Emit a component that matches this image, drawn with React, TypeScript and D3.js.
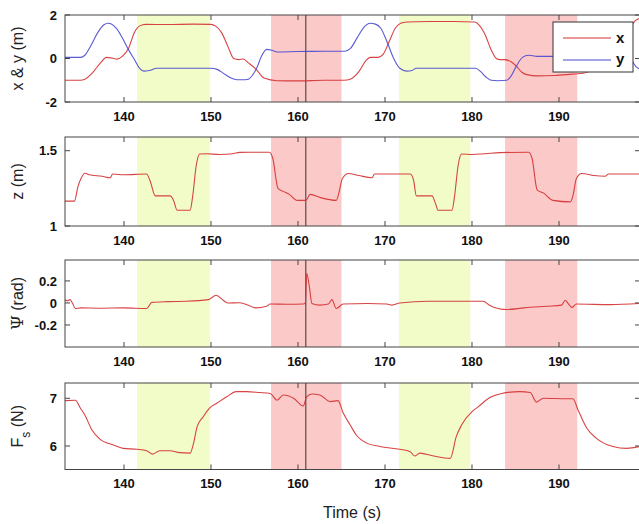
import * as d3 from 'd3'

// time axis
const timeDomain: [number, number] = [133.22, 199.31]
const timeTicks = [140, 150, 160, 170, 180, 190]

// shaded phases and event marker
const greenSpans: [number, number][] = [[141.5, 149.9], [171.6, 179.8]]
const redSpans: [number, number][] = [[156.9, 165.0], [183.8, 192.1]]
const eventTime = 160.9

// x position (m)
const xT = [133.2, 135.0, 135.5, 136.5, 137.3, 138.0, 138.6, 139.2, 139.8, 140.5, 141.2, 141.8, 142.5, 145, 148, 150.0, 150.5, 151.2, 152.0, 152.6, 153.2, 153.7, 154.3, 155.2, 156.1, 157.6, 160, 163, 165.3, 166.0, 167.0, 167.8, 168.3, 169.2, 169.8, 170.5, 171.2, 171.8, 172.5, 175, 178, 180.3, 180.8, 181.5, 182.2, 182.8, 183.2, 183.7, 184.5, 185.1, 185.7, 186.3, 187.5, 189.5, 191.5, 192.8, 194.0, 195.5, 196.5, 197.4, 198.2, 198.8, 199.31]
const xV = [-1.0, -1.0, -0.95, -0.6, -0.2, 0.05, 0.02, -0.03, 0.1, 0.45, 1.2, 1.5, 1.57, 1.56, 1.58, 1.57, 1.5, 1.2, 0.5, 0.0, -0.05, -0.02, -0.2, -0.5, -0.9, -1.02, -1.03, -1.0, -1.0, -0.95, -0.6, -0.1, 0.05, 0.05, 0.2, 0.8, 1.4, 1.62, 1.68, 1.7, 1.7, 1.68, 1.55, 1.1, 0.4, 0.0, -0.05, -0.05, -0.15, -0.35, -0.62, -0.74, -0.8, -0.78, -0.72, -0.68, -0.5, 0.0, 0.05, 0.6, 1.4, 1.75, 1.85]

// y position (m)
const yT = [133.2, 135.0, 135.5, 136.2, 137.0, 137.7, 138.2, 138.6, 139.2, 139.8, 140.5, 141.2, 141.8, 142.3, 142.9, 143.8, 147, 150.0, 150.7, 151.5, 152.3, 153.0, 153.6, 154.3, 154.8, 155.3, 155.8, 156.4, 157.0, 157.6, 160, 163, 165.4, 166.0, 166.8, 167.5, 168.3, 168.9, 169.5, 170.3, 171.0, 171.7, 172.5, 173.1, 173.6, 177, 180.4, 181.0, 181.6, 182.2, 183, 184.0, 184.5, 185.1, 185.8, 186.5, 187.5, 189.3, 191.0, 192.5, 193.5, 194.5, 195.5, 196.3, 197.0, 197.8, 198.8, 199.31]
const yV = [0.05, 0.05, 0.15, 0.6, 1.2, 1.55, 1.62, 1.58, 1.35, 0.95, 0.42, -0.05, -0.45, -0.58, -0.55, -0.45, -0.45, -0.45, -0.5, -0.7, -0.9, -0.98, -0.98, -0.95, -0.75, -0.4, 0.1, 0.42, 0.38, 0.3, 0.32, 0.33, 0.33, 0.45, 0.95, 1.4, 1.62, 1.58, 1.4, 0.7, 0.0, -0.45, -0.58, -0.55, -0.45, -0.45, -0.45, -0.6, -0.85, -1.0, -1.02, -1.0, -0.8, -0.35, 0.05, 0.15, 0.1, 0.1, 0.12, 0.15, 0.5, 1.2, 1.55, 1.6, 1.2, 0.4, -0.35, -0.5]

// z (m)
const zT = [133.2, 134.3, 134.7, 135.1, 135.5, 136.0, 137.5, 138.4, 138.7, 140, 142.6, 143.0, 143.6, 145.3, 145.7, 146.1, 147.6, 147.9, 148.3, 148.7, 149.5, 151, 152.5, 153.3, 156.7, 157.1, 157.7, 158.3, 159.0, 159.9, 160.9, 161.4, 162.5, 164.4, 164.7, 165.1, 165.8, 167.0, 168.5, 168.8, 172.9, 173.3, 173.6, 175.4, 175.8, 176.1, 177.7, 178.0, 178.4, 178.8, 180, 181.5, 183.2, 186.5, 186.9, 187.5, 188.2, 189.3, 191.3, 191.6, 192.0, 192.6, 194.0, 195.3, 195.7, 197, 199.31]
const zV = [1.165, 1.165, 1.26, 1.32, 1.35, 1.34, 1.33, 1.32, 1.345, 1.34, 1.345, 1.3, 1.2, 1.2, 1.17, 1.105, 1.105, 1.2, 1.4, 1.478, 1.48, 1.475, 1.48, 1.489, 1.49, 1.45, 1.25, 1.23, 1.21, 1.17, 1.17, 1.21, 1.19, 1.17, 1.22, 1.316, 1.349, 1.335, 1.32, 1.345, 1.345, 1.3, 1.2, 1.2, 1.15, 1.105, 1.105, 1.2, 1.4, 1.478, 1.475, 1.48, 1.487, 1.49, 1.45, 1.238, 1.22, 1.17, 1.16, 1.2, 1.316, 1.349, 1.335, 1.33, 1.345, 1.345, 1.345]

// heading psi (rad)
const psiT = [133.2, 133.5, 133.8, 134.1, 134.4, 135, 137.2, 140, 142.6, 143.2, 145, 147.2, 149.7, 150.6, 151.4, 151.9, 153.3, 154.3, 155.1, 156.4, 156.8, 158.7, 160.6, 160.85, 161.0, 161.3, 161.6, 162.5, 163.5, 163.9, 164.4, 165.2, 168, 170.2, 170.8, 171.7, 175, 179.8, 181.3, 182.0, 184.0, 186, 188.6, 190.3, 190.7, 191.1, 191.5, 192.0, 195.9, 199.31]
const psiV = [0.03, 0.02, 0.03, -0.005, -0.05, -0.045, -0.048, -0.045, -0.05, 0.005, 0.012, 0.015, 0.03, 0.07, 0.025, 0.0, 0.002, -0.02, -0.045, -0.03, -0.01, -0.012, -0.01, 0.0, 0.27, 0.15, -0.005, -0.02, -0.01, 0.03, -0.05, -0.01, -0.005, -0.01, -0.02, 0.0, 0.015, 0.015, 0.015, -0.02, -0.06, -0.045, -0.03, -0.02, 0.025, -0.01, -0.04, -0.01, -0.015, -0.005]

// Fs (N)
const fT = [133.2, 134.4, 135.0, 135.5, 136.3, 137.2, 138.8, 139.9, 141.5, 142.6, 143.3, 144.1, 145.3, 146.4, 147.6, 148.0, 148.4, 149.1, 149.8, 150.7, 151.8, 152.9, 154.1, 155.6, 156.8, 157.6, 158.3, 159.5, 160.6, 161.0, 161.6, 162.5, 163.7, 164.6, 165.2, 166.0, 166.7, 167.9, 169.4, 171.7, 172.9, 173.4, 174.0, 175.6, 177.5, 178.2, 178.8, 180.0, 180.7, 182.1, 183.4, 185.5, 186.7, 187.4, 188.2, 190.9, 191.6, 192.2, 193.2, 194.3, 196.2, 197.8, 199.31]
const fV = [6.95, 6.96, 6.79, 6.65, 6.34, 6.15, 6.02, 5.95, 5.93, 5.9, 5.83, 5.9, 5.9, 5.86, 5.85, 6.06, 6.4, 6.61, 6.79, 6.9, 7.03, 7.14, 7.14, 7.12, 7.1, 6.96, 7.07, 7.0, 6.84, 7.03, 7.09, 7.07, 6.93, 6.95, 6.69, 6.44, 6.23, 6.06, 5.99, 5.93, 5.88, 5.79, 5.85, 5.79, 5.74, 6.2, 6.44, 6.72, 6.82, 7.02, 7.1, 7.14, 7.12, 6.92, 7.0, 6.99, 6.99, 6.75, 6.37, 6.16, 5.99, 5.95, 5.99]

const RED = '#d43030'
const BLUE = '#4848d0'
const SANS = 'Liberation Sans, Arial, sans-serif'

type Series = { t: number[]; v: number[]; color: string }
type Panel = {
  id: string
  top: number
  bottom: number
  domain: [number, number]
  ticks: number[]
  series: Series[]
}

const panels: Panel[] = [
  { id: 'xy', top: 15, bottom: 102, domain: [-2, 2], ticks: [-2, 0, 2],
    series: [{ t: xT, v: xV, color: RED }, { t: yT, v: yV, color: BLUE }] },
  { id: 'z', top: 137, bottom: 226, domain: [1, 1.591], ticks: [1, 1.5],
    series: [{ t: zT, v: zV, color: RED }] },
  { id: 'psi', top: 260, bottom: 347, domain: [-0.4, 0.39], ticks: [-0.2, 0, 0.2],
    series: [{ t: psiT, v: psiV, color: RED }] },
  { id: 'fs', top: 383, bottom: 469.5, domain: [5.507, 7.32], ticks: [6, 7],
    series: [{ t: fT, v: fV, color: RED }] },
]

// axis titles, drawn rotated beside each panel
function AxisTitle({ id }: { id: string }) {
  if (id === 'xy') return <>x &amp; y (m)</>
  if (id === 'z') return <>z (m)</>
  if (id === 'psi') return <><tspan fontFamily="DejaVu Serif, serif" fontSize={17}>Ψ</tspan> (rad)</>
  return <>F<tspan baselineShift="sub" fontSize={12}>s</tspan> (N)</>
}

const left = 65
const right = 640
const x = d3.scaleLinear().domain(timeDomain).range([left, right])
const axisColor = '#454545'
const tickFont = { fontFamily: SANS, fontWeight: 700, fontSize: 13 }

function PanelView({ p }: { p: Panel }) {
  const y = d3.scaleLinear().domain(p.domain).range([p.bottom, p.top])
  const line = d3.line<[number, number]>()
    .x(d => x(d[0]))
    .y(d => y(d[1]))
    .curve(d3.curveMonotoneX)
  const h = p.bottom - p.top
  const midY = (p.top + p.bottom) / 2
  return (
    <g>
      <defs>
        <clipPath id={`clip-${p.id}`}>
          <rect x={left} y={p.top} width={right - left} height={h} />
        </clipPath>
      </defs>
      {greenSpans.map(([a, b], i) => (
        <rect key={`g${i}`} x={x(a)} y={p.top} width={x(b) - x(a)} height={h} fill="#f1fcc9" />
      ))}
      {redSpans.map(([a, b], i) => (
        <rect key={`r${i}`} x={x(a)} y={p.top} width={x(b) - x(a)} height={h} fill="#fcc9c9" />
      ))}
      <line x1={x(eventTime)} x2={x(eventTime)} y1={p.top} y2={p.bottom} stroke="#333" strokeWidth={1} />
      <g clipPath={`url(#clip-${p.id})`}>
        {p.series.map((s, i) => (
          <path key={i} d={line(s.t.map((t, j) => [t, s.v[j]] as [number, number])) || ''}
            fill="none" stroke={s.color} strokeWidth={1.1} strokeOpacity={0.9} />
        ))}
      </g>
      <rect x={left} y={p.top} width={right - left} height={h} fill="none" stroke={axisColor} strokeWidth={1} />
      {timeTicks.map(t => (
        <g key={t}>
          <line x1={x(t)} x2={x(t)} y1={p.bottom} y2={p.bottom - 5} stroke={axisColor} />
          <line x1={x(t)} x2={x(t)} y1={p.top} y2={p.top + 5} stroke={axisColor} />
          <text x={x(t)} y={p.bottom + 18.5} textAnchor="middle" {...tickFont} fill="#111">{t}</text>
        </g>
      ))}
      {p.ticks.map(v => (
        <g key={v}>
          <line x1={left} x2={left + 5} y1={y(v)} y2={y(v)} stroke={axisColor} />
          <line x1={right - 5} x2={right} y1={y(v)} y2={y(v)} stroke={axisColor} />
          <text x={57} y={y(v)} dy="0.36em" textAnchor="end" {...tickFont} fill="#111">{v}</text>
        </g>
      ))}
      <text transform={`translate(23,${midY}) rotate(-90)`} textAnchor="middle"
        fontFamily={SANS} fontSize={16} fill="#222">
        <AxisTitle id={p.id} />
      </text>
    </g>
  )
}

export default function App() {
  return (
    <svg width={639} height={524} style={{ position: 'absolute', left: 0, top: 0, background: '#fff' }}>
      <rect width={639} height={524} fill="#fff" />
      {panels.map(p => <PanelView key={p.id} p={p} />)}
      <g>
        <rect x={553} y={22} width={80} height={50} fill="#fff" stroke="#333" strokeWidth={1} />
        <line x1={563} x2={611} y1={38} y2={38} stroke={RED} />
        <line x1={563} x2={611} y1={60} y2={60} stroke={BLUE} />
        <text x={616} y={38} dy="0.36em" {...tickFont} fontSize={15} fill="#111">x</text>
        <text x={616} y={59} dy="0.36em" {...tickFont} fontSize={15} fill="#111">y</text>
      </g>
      <text x={352} y={518} textAnchor="middle" fontFamily={SANS} fontSize={16} fill="#222">Time (s)</text>
    </svg>
  )
}
